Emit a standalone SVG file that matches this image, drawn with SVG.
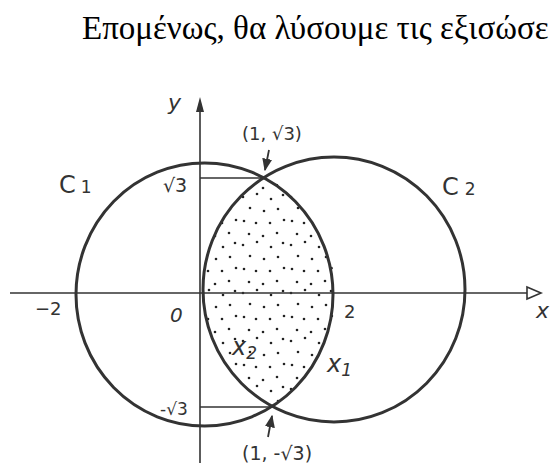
<svg xmlns="http://www.w3.org/2000/svg" width="554" height="463" viewBox="0 0 554 463">
<defs>
<style>
.title{font-family:"Liberation Serif","Times New Roman",serif;font-size:33px;fill:#000}
.lbl{font-family:"DejaVu Sans","Liberation Sans",sans-serif;fill:#333}
.it{font-style:italic}
.circ{fill:none;stroke:#333;stroke-width:3}
.ax{stroke:#333;stroke-width:1.6;fill:none}
.ptr{stroke:#333;stroke-width:1.8;fill:none}
</style>
<pattern id="dots" patternUnits="userSpaceOnUse" width="48" height="48">
<circle cx="3" cy="5" r="1.3" fill="#222"/>
<circle cx="17" cy="2" r="1.3" fill="#222"/>
<circle cx="31" cy="7" r="1.3" fill="#222"/>
<circle cx="43" cy="3" r="1.3" fill="#222"/>
<circle cx="10" cy="16" r="1.3" fill="#222"/>
<circle cx="24" cy="19" r="1.3" fill="#222"/>
<circle cx="38" cy="17" r="1.3" fill="#222"/>
<circle cx="4" cy="29" r="1.3" fill="#222"/>
<circle cx="16" cy="31" r="1.3" fill="#222"/>
<circle cx="30" cy="31" r="1.3" fill="#222"/>
<circle cx="44" cy="28" r="1.3" fill="#222"/>
<circle cx="9" cy="42" r="1.3" fill="#222"/>
<circle cx="23" cy="44" r="1.3" fill="#222"/>
<circle cx="37" cy="41" r="1.3" fill="#222"/>
</pattern>
<marker id="ah" viewBox="0 0 10 10" refX="9" refY="5" markerWidth="7" markerHeight="7" orient="auto">
<path d="M0,1 L10,5 L0,9 z" fill="#333"/>
</marker>
</defs>
<rect width="554" height="463" fill="#fff"/>
<text class="title" x="82" y="39">Επομένως, θα λύσουμε τις εξισώσε</text>

<g id="lens">
<path d="M266,177 A131,132.5 0 0 0 272,407 A128.5,131.5 0 0 0 266,177 Z" fill="url(#dots)" stroke="none"/>
</g>

<g id="connectors">
<line class="ax" x1="10" y1="293" x2="540" y2="293"/>
<path d="M527,287 L541,293 L527,299 Z" fill="#fff" stroke="#333" stroke-width="1.6"/>
<line class="ax" x1="200" y1="463" x2="200" y2="104"/>
<path d="M196,112 L200,97 L204,112 Z" fill="#333"/>
<line class="ax" x1="200" y1="178" x2="266" y2="178"/>
<line class="ax" x1="200" y1="407" x2="272" y2="407"/>
<line class="ptr" x1="269" y1="150" x2="265" y2="170" marker-end="url(#ah)"/>
<line class="ptr" x1="268" y1="437" x2="272" y2="416" marker-end="url(#ah)"/>
</g>

<g id="C1">
<ellipse class="circ" cx="204.5" cy="294.5" rx="128.5" ry="131.5"/>
<text class="lbl" x="59" y="193" style="font-size:24px">C<tspan style="font-size:17px" dx="5">1</tspan></text>
</g>
<g id="C2">
<ellipse class="circ" cx="334" cy="289.5" rx="131" ry="132.5"/>
<text class="lbl" x="442" y="195" style="font-size:24px">C<tspan style="font-size:17px" dx="6">2</tspan></text>
</g>

<g id="labels">
<text class="lbl it" x="168" y="110" style="font-size:22px">y</text>
<text class="lbl" x="242" y="140" style="font-size:18px">(1, √3)</text>
<text class="lbl" x="163" y="192" style="font-size:19px">√3</text>
<text class="lbl" x="35" y="315" style="font-size:18px">−2</text>
<text class="lbl it" x="170" y="322" style="font-size:20px">0</text>
<text class="lbl" x="344" y="318" style="font-size:18px">2</text>
<text class="lbl it" x="536" y="318" style="font-size:22px">x</text>
<text class="lbl it" x="232" y="355" style="font-size:24px">x<tspan style="font-size:17px" dy="4">2</tspan></text>
<text class="lbl it" x="327" y="372" style="font-size:24px">x<tspan style="font-size:17px" dy="4">1</tspan></text>
<text class="lbl" x="160" y="415" style="font-size:17px">-√3</text>
<text class="lbl" x="242" y="460" style="font-size:19px">(1, -√3)</text>
</g>
</svg>
